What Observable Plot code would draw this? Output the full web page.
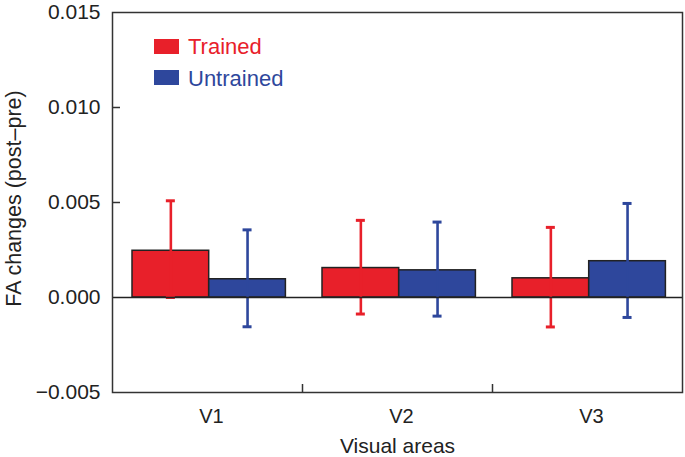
<!DOCTYPE html>
<html><head><meta charset="utf-8">
<script src="https://cdn.jsdelivr.net/npm/d3@7"></script>
<script src="https://cdn.jsdelivr.net/npm/@observablehq/plot@0.6"></script>
<style>
body{margin:0;background:#fff;font-family:"Liberation Sans",Arial,sans-serif}
#wrap{position:relative;width:685px;height:457px}
.leg{position:absolute;font-size:22px;line-height:22px;white-space:nowrap}
.sw{position:absolute;width:25px;height:15px}
</style></head><body><div id="wrap"></div>
<script>
// ---- data ----
const areas = ["V1", "V2", "V3"];
const conditions = ["Trained", "Untrained"];
const trainedMean = [0.00246, 0.00155, 0.00101];
const trainedLow = [0.0, -0.00087, -0.00155];
const trainedHigh = [0.00509, 0.00406, 0.00369];
const untrainedMean = [0.00096, 0.00143, 0.00191];
const untrainedLow = [-0.00154, -0.00098, -0.00105];
const untrainedHigh = [0.00356, 0.00397, 0.00495];
const yTicks = [-0.005, 0, 0.005, 0.010, 0.015];
const yInnerTicks = [0.005, 0.010];
const colors = {Trained: "#e8202a", Untrained: "#2e479c"};
const yLabel = "FA changes (post\u2013pre)";
const xLabel = "Visual areas";

const trained = areas.map((a, i) => ({area: a, cond: "Trained", value: trainedMean[i], low: trainedLow[i], high: trainedHigh[i]}));
const untrained = areas.map((a, i) => ({area: a, cond: "Untrained", value: untrainedMean[i], low: untrainedLow[i], high: untrainedHigh[i]}));

// ---- layout ----
const W = 685, H = 457, mL = 112, mR = 3, mT = 12, mB = 65;
const bw = (W - mL - mR) / areas.length;
const gap = 20, barW = 76.7, cap = 4.5;
const lay = {
  Trained: {l: gap, r: bw - gap - barW, c: gap + barW / 2},
  Untrained: {l: gap + barW, r: bw - gap - 2 * barW, c: gap + barW * 1.5}
};
const ink = "#222";

function barsFor(rows, cond) {
  const L = lay[cond];
  return [
    Plot.barY(rows, {x: "area", y: "value", fill: colors[cond], stroke: ink, strokeWidth: 1.5, insetLeft: L.l, insetRight: L.r})
  ];
}
function errFor(rows, cond) {
  const L = lay[cond];
  const c = colors[cond];
  return [
    Plot.ruleX(rows, {x: "area", y1: "low", y2: "high", stroke: c, strokeWidth: 2.6, dx: L.c - bw / 2}),
    Plot.tickY(rows, {x: "area", y: "high", stroke: c, strokeWidth: 3, insetLeft: L.c - cap, insetRight: bw - L.c - cap}),
    Plot.tickY(rows, {x: "area", y: "low", stroke: c, strokeWidth: 3, insetLeft: L.c - cap, insetRight: bw - L.c - cap})
  ];
}

const chart = Plot.plot({
  width: W, height: H,
  marginLeft: mL, marginRight: mR, marginTop: mT, marginBottom: mB,
  style: {fontFamily: '"Liberation Sans", Arial, sans-serif', fontSize: "21px", color: ink, background: "#fff"},
  x: {domain: areas, padding: 0, label: null},
  y: {domain: [-0.005, 0.015], label: null},
  marks: [
    ...barsFor(trained, "Trained"),
    ...barsFor(untrained, "Untrained"),
    ...errFor(trained, "Trained"),
    ...errFor(untrained, "Untrained"),
    Plot.ruleY([0], {stroke: ink, strokeWidth: 1.5}),
    Plot.frame({stroke: "#333", strokeWidth: 1.5}),
    Plot.axisY(yInnerTicks, {tickSize: -8, text: null, stroke: "#333", strokeWidth: 1.5, label: null}),
    Plot.axisY(yTicks, {tickSize: 0, tickPadding: 12, tickFormat: d3.format(".3f"), fontSize: 21, label: null}),
    Plot.axisX(areas.slice(0, areas.length - 1), {tickSize: -8, text: null, dx: bw / 2, stroke: "#333", strokeWidth: 1.5, label: null}),
    Plot.axisX(areas, {tickSize: 0, tickPadding: 16, fontSize: 20, dx: 4, label: null}),
    Plot.text([yLabel], {frameAnchor: "left", textAnchor: "middle", lineAnchor: "middle", rotate: -90, dx: -98, dy: -4, fontSize: 21.5, fill: ink}),
    Plot.text([xLabel], {frameAnchor: "bottom", textAnchor: "middle", lineAnchor: "bottom", dy: 60, fontSize: 21, fill: ink})
  ]
});

const wrap = document.getElementById("wrap");
wrap.appendChild(chart);

// legend
const legRows = [
  {cond: conditions[0], swTop: 39, textTop: 36},
  {cond: conditions[1], swTop: 70, textTop: 68}
];
for (const r of legRows) {
  const sw = document.createElement("div");
  sw.className = "sw";
  sw.style.left = "154px";
  sw.style.top = r.swTop + "px";
  sw.style.background = colors[r.cond];
  wrap.appendChild(sw);
  const t = document.createElement("div");
  t.className = "leg";
  t.style.left = "188px";
  t.style.top = r.textTop + "px";
  t.style.color = colors[r.cond];
  t.textContent = r.cond;
  wrap.appendChild(t);
}
</script>
</body></html>
